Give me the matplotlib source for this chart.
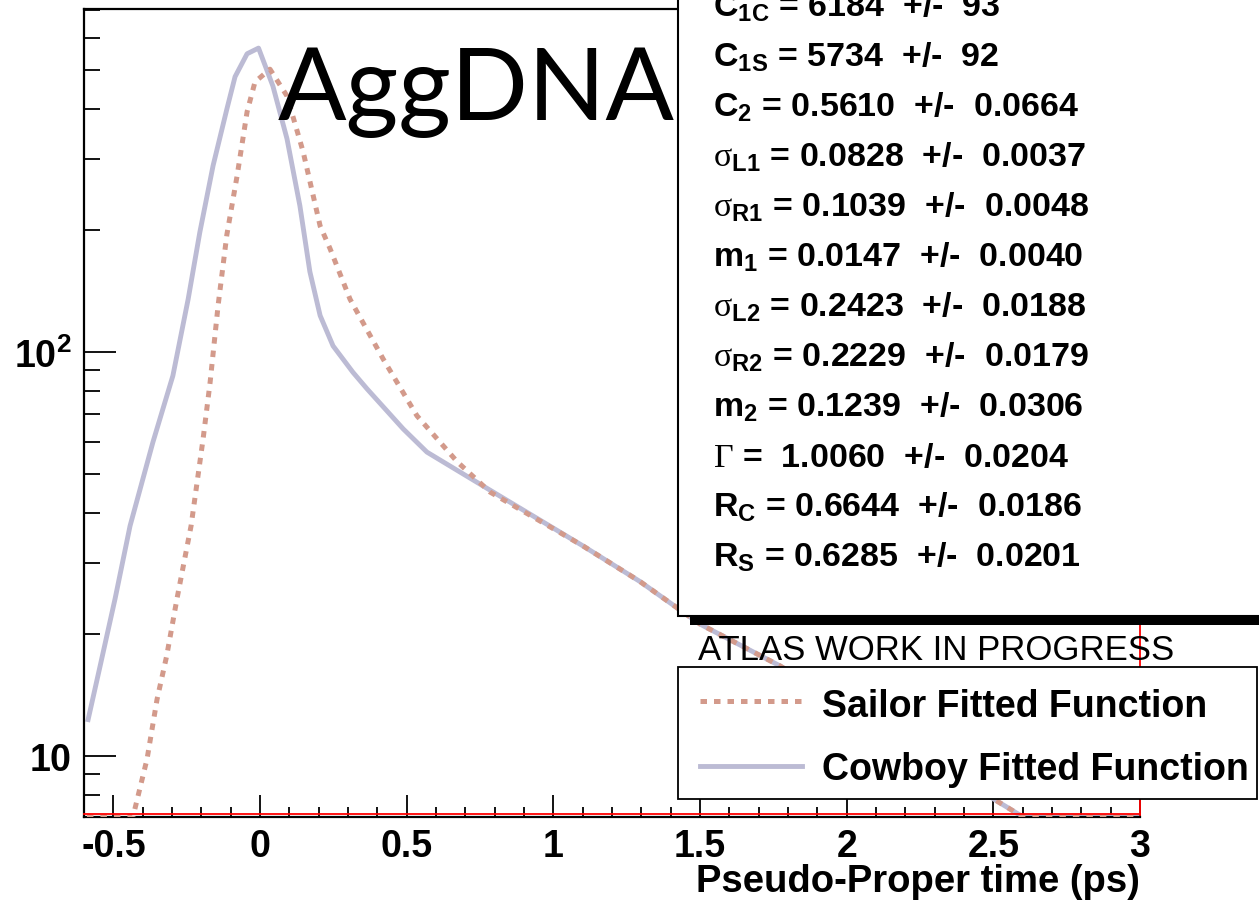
#!/usr/bin/env python3
"""Pseudo-proper time fit curves (Sailor vs Cowboy), ROOT-style canvas."""

import matplotlib

matplotlib.use("Agg")
import matplotlib.pyplot as plt
import numpy as np
from matplotlib.lines import Line2D
from matplotlib.patches import Rectangle
from matplotlib.ticker import FixedFormatter, FixedLocator, NullFormatter

W, H = 1259, 903

# ---- data ----
SAILOR_X = [-0.59, -0.433, -0.385, -0.351, -0.318, -0.283, -0.235, -0.194,
            -0.170, -0.143, -0.113, -0.078, -0.044, -0.017, 0.034, 0.092,
            0.147, 0.205, 0.239, 0.307, 0.420, 0.535, 0.672, 0.784,
            1.101, 1.296, 1.5, 1.773, 2.0, 2.25, 2.5, 2.6, 2.7, 3.0]
SAILOR_Y = [4.5, 7.07, 9.83, 13.8, 17.7, 24.5, 37.1, 60.9,
            84.2, 130, 195, 273, 393, 466, 501, 430,
            313, 205, 180, 135, 96, 69.5, 53.5, 45,
            33.1, 27.0, 21.2, 16.7, 13.2, 10.2, 7.83, 7.07, 6.0, 4.5]

COWBOY_X = [-0.586, -0.545, -0.494, -0.443, -0.365, -0.297, -0.245, -0.205,
            -0.160, -0.113, -0.085, -0.044, -0.005, 0.044, 0.092, 0.136,
            0.170, 0.205, 0.249, 0.317, 0.365, 0.488, 0.569, 0.760,
            1.101, 1.296, 1.5, 1.773, 2.0, 2.25, 2.5, 2.6, 2.7, 3.0]
COWBOY_Y = [12.3, 16.7, 24.5, 37.1, 59.8, 87.3, 135, 198,
            289, 399, 480, 547, 565, 455, 337, 230,
            158, 123, 103.5, 89, 81, 64.5, 56.5, 46.6,
            33.1, 27.0, 21.2, 16.7, 13.2, 10.2, 7.83, 7.07, 6.0, 4.5]

X_LIM = (-0.6, 3.0)
Y_LIM = (7.06, 706.0)
X_MAJOR = [-0.5, 0, 0.5, 1, 1.5, 2, 2.5, 3]
X_LABELS = ["-0.5", "0", "0.5", "1", "1.5", "2", "2.5", "3"]
X_MINOR = [-0.6, -0.4, -0.3, -0.2, -0.1, 0.1, 0.2, 0.3, 0.4, 0.6, 0.7, 0.8,
           0.9, 1.1, 1.2, 1.3, 1.4, 1.6, 1.7, 1.8, 1.9, 2.1, 2.2, 2.3, 2.4,
           2.6, 2.7, 2.8, 2.9]
Y_MAJOR = [10, 100]
Y_LABELS = [r"$\mathbf{10}$", r"$\mathbf{10^{2}}$"]
Y_MINOR = [8, 9, 20, 30, 40, 50, 60, 70, 80, 90, 200, 300, 400, 500, 600, 700]

FIT_PARAMS = [
    r"$C_{1C}$ = 6184  +/-  93",
    r"$C_{1S}$ = 5734  +/-  92",
    r"$C_{2}$ = 0.5610  +/-  0.0664",
    r"$\mathcal{\sigma}_{L1}$ = 0.0828  +/-  0.0037",
    r"$\mathcal{\sigma}_{R1}$ = 0.1039  +/-  0.0048",
    r"$m_{1}$ = 0.0147  +/-  0.0040",
    r"$\mathcal{\sigma}_{L2}$ = 0.2423  +/-  0.0188",
    r"$\mathcal{\sigma}_{R2}$ = 0.2229  +/-  0.0179",
    r"$m_{2}$ = 0.1239  +/-  0.0306",
    r"$\mathcal{\Gamma}$ =  1.0060  +/-  0.0204",
    r"$R_{C}$ = 0.6644  +/-  0.0186",
    r"$R_{S}$ = 0.6285  +/-  0.0201",
]
LEGEND_LABELS = ["Sailor Fitted Function", "Cowboy Fitted Function"]

SAILOR_COLOR = "#d39a8b"
COWBOY_COLOR = "#bcbbd4"
SAILOR_STYLE = dict(color=SAILOR_COLOR, lw=3.6, linestyle=(0, (1.3, 1.4)),
                    dash_capstyle="butt")
COWBOY_STYLE = dict(color=COWBOY_COLOR, lw=3.5, linestyle="-")

FONT = "Liberation Sans"


def fx(px):
    return px / W


def fy(py):
    return 1 - py / H


def main():
    plt.rcParams["mathtext.fontset"] = "custom"
    plt.rcParams["mathtext.rm"] = "Liberation Sans:bold"
    plt.rcParams["mathtext.it"] = "Liberation Sans:bold"
    plt.rcParams["mathtext.bf"] = "Liberation Sans:bold"
    plt.rcParams["mathtext.cal"] = "Liberation Serif"
    plt.rcParams["mathtext.default"] = "rm"

    fig = plt.figure(figsize=(W / 100, H / 100), dpi=100)
    ax = fig.add_axes([fx(84), fy(818), fx(1140) - fx(84), fy(10) - fy(818)])

    ymin = Y_LIM[0]
    ax.plot(SAILOR_X, np.clip(SAILOR_Y, ymin, None), zorder=3, **SAILOR_STYLE)
    ax.plot(COWBOY_X, np.clip(COWBOY_Y, ymin, None), zorder=2, **COWBOY_STYLE)

    ax.set_yscale("log")
    ax.set_xlim(*X_LIM)
    ax.set_ylim(*Y_LIM)

    ax.xaxis.set_major_locator(FixedLocator(X_MAJOR))
    ax.xaxis.set_major_formatter(FixedFormatter(X_LABELS))
    ax.xaxis.set_minor_locator(FixedLocator(X_MINOR))
    ax.yaxis.set_major_locator(FixedLocator(Y_MAJOR))
    ax.yaxis.set_major_formatter(FixedFormatter(Y_LABELS))
    ax.yaxis.set_minor_locator(FixedLocator(Y_MINOR))
    ax.yaxis.set_minor_formatter(NullFormatter())

    ax.tick_params(axis="x", which="major", direction="in", length=16,
                   width=1.3, pad=8, labelsize=27)
    ax.tick_params(axis="x", which="minor", direction="in", length=7.5,
                   width=1.3)
    ax.tick_params(axis="y", which="major", direction="in", length=23,
                   width=1.3, pad=9, labelsize=27)
    ax.tick_params(axis="y", which="minor", direction="in", length=11.5,
                   width=1.3)
    for lab in ax.get_xticklabels():
        lab.set_fontfamily(FONT)
        lab.set_fontweight("bold")

    for side in ("left", "bottom", "top"):
        ax.spines[side].set_linewidth(1.6)
        ax.spines[side].set_color("black")
    ax.spines["right"].set_color("red")
    ax.spines["right"].set_linewidth(1.3)
    ax.plot([0, 1], [0.004, 0.004], transform=ax.transAxes, color="red",
            lw=1.3, clip_on=False, zorder=4)

    fig.text(fx(1140), fy(892), "Pseudo-Proper time (ps)", ha="right",
             va="baseline", fontsize=27.5, fontweight="bold", family=FONT)

    # big label
    fig.text(fx(278), fy(120), "AggDNA", ha="left", va="baseline",
             fontsize=73, family="Lato", zorder=6)

    # stats box with ROOT shadow
    fig.add_artist(Rectangle((fx(690), fy(626)), 1.0, 1.0,
                             transform=fig.transFigure, facecolor="black",
                             edgecolor="none", zorder=5))
    fig.add_artist(Rectangle((fx(678), fy(617)), 1.0, 1.0,
                             transform=fig.transFigure, facecolor="white",
                             edgecolor="black", lw=1.5, zorder=5))
    for i, txt in enumerate(FIT_PARAMS):
        base = 17 + 50 * i
        fig.text(fx(713), fy(base), txt, ha="left", va="baseline",
                 fontsize=24.5, fontweight="bold", family=FONT, zorder=7)

    fig.text(fx(698), fy(660), "ATLAS WORK IN PROGRESS", ha="left",
             va="baseline", fontsize=25, family=FONT, zorder=7)

    # legend box
    fig.add_artist(Rectangle((fx(678), fy(800)), fx(1257) - fx(678),
                             fy(668) - fy(800), transform=fig.transFigure,
                             facecolor="white", edgecolor="black", lw=1.3,
                             zorder=5))
    for label, style, line_y, base in zip(
            LEGEND_LABELS, [SAILOR_STYLE, COWBOY_STYLE], [702, 767],
            [717, 780]):
        fig.add_artist(Line2D([fx(700), fx(802)], [fy(line_y), fy(line_y)],
                              transform=fig.transFigure, zorder=7, **style))
        fig.text(fx(822), fy(base), label, ha="left", va="baseline",
                 fontsize=27, fontweight="bold", family=FONT, zorder=7)

    fig.savefig("out.png", dpi=100)
    plt.close(fig)


if __name__ == "__main__":
    main()
